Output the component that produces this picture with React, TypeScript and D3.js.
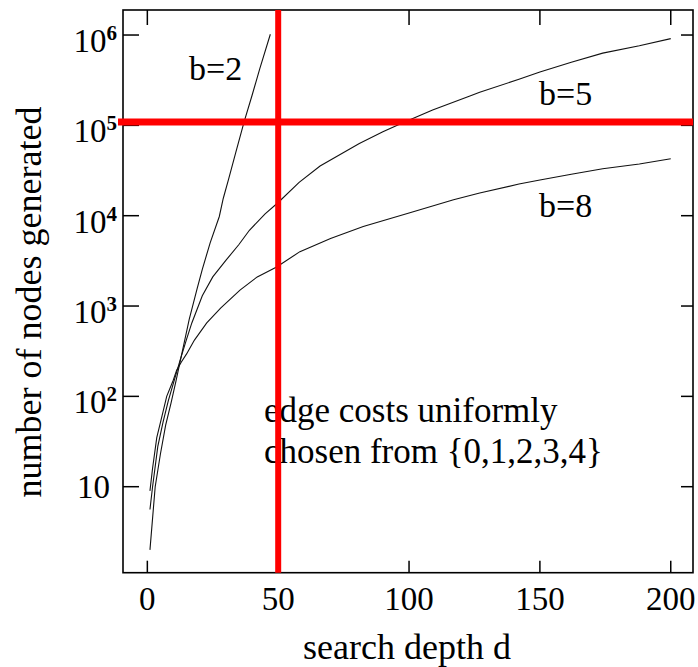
import React from "react";
import * as d3 from "d3";

// Search depth d and number of nodes generated for each branching factor
const depthB2 = [1, 3, 5, 7, 9, 11, 13, 16, 19, 21, 24, 27.5, 29, 31, 33.8, 37, 40, 43, 47];
const nodesB2 = [2, 10, 23, 48, 83, 150, 280, 710, 1550, 2550, 5000, 9800, 15500, 25100, 50100, 110000, 214000, 427000, 1020000];

const depthB5 = [1, 2, 4, 6, 8, 10, 12.5, 15, 17, 21, 25, 30, 35, 39, 45, 50, 58, 66, 75, 81, 90, 97, 109, 123, 127, 142, 150, 162, 174, 188, 200];
const nodesB5 = [5.6, 10, 28, 52, 89, 141, 250, 430, 650, 1300, 2100, 3200, 4800, 6900, 10500, 14000, 23400, 35500, 50000, 63000, 85000, 105000, 148000, 210000, 232000, 324000, 389000, 500000, 630000, 760000, 912000];

const depthB8 = [1, 2, 3.6, 5.5, 7.4, 9.9, 11.2, 13, 15, 18, 22.7, 28, 35.4, 42, 49.4, 58.3, 70, 82.5, 100, 117, 127, 142, 150, 162, 174, 188, 200];
const nodesB8 = [9, 16, 35, 59, 100, 151, 195, 240, 295, 420, 650, 950, 1500, 2100, 2700, 4000, 5600, 7600, 10700, 15000, 17800, 22400, 24800, 28800, 33100, 37300, 42700];

const xTicks = [0, 50, 100, 150, 200];
const yTickExponents = [1, 2, 3, 4, 5, 6];

// Reference lines
const markDepth = 50;
const markNodes = 109000;

const seriesLabels = ["b=2", "b=5", "b=8"];
const noteLines = ["edge costs uniformly", "chosen from {0,1,2,3,4}"];

const W = 698;
const H = 667;
const left = 123;
const right = 693;
const top = 10;
const bottom = 572.7;

const FONT = "'Liberation Serif', 'Times New Roman', serif";

export default function App() {
  const x = d3.scaleLinear().domain([-9.3, 208.5]).range([left, right]);
  const y = d3
    .scaleLog()
    .domain([Math.pow(10, 0.048), Math.pow(10, 6.277)])
    .range([bottom, top]);

  const line = d3
    .line<[number, number]>()
    .x((p) => x(p[0]))
    .y((p) => y(p[1]));

  const series = [
    { d: depthB2, n: nodesB2 },
    { d: depthB5, n: nodesB5 },
    { d: depthB8, n: nodesB8 },
  ].map((s) => s.d.map((dv, i) => [dv, s.n[i]] as [number, number]));

  return (
    <svg
      width={W}
      height={H}
      style={{ position: "absolute", left: 0, top: 0, background: "#fff" }}
      fontFamily={FONT}
    >
      <rect x={0} y={0} width={W} height={H} fill="#fff" />

      {/* curves */}
      {series.map((pts, i) => (
        <path key={i} d={line(pts) || ""} fill="none" stroke="#111" strokeWidth={1.1} />
      ))}

      {/* frame */}
      <rect x={left} y={top} width={right - left} height={bottom - top} fill="none" stroke="#000" strokeWidth={1.6} />

      {/* y ticks */}
      {yTickExponents.map((e) => {
        const yy = y(Math.pow(10, e));
        return (
          <g key={e}>
            <line x1={left} x2={left + 16} y1={yy} y2={yy} stroke="#000" strokeWidth={1.5} />
            <line x1={right - 12} x2={right} y1={yy} y2={yy} stroke="#000" strokeWidth={1.5} />
            {e === 1 ? (
              <text x={110} y={yy + 11.5} textAnchor="end" fontSize={33} fill="#000">
                10
              </text>
            ) : (
              <text x={117} y={yy + 17} textAnchor="end" fontSize={33} fill="#000">
                10
                <tspan fontSize={21} fontWeight="bold" dy={-12}>
                  {e}
                </tspan>
              </text>
            )}
          </g>
        );
      })}

      {/* x ticks */}
      {xTicks.map((t) => {
        const xx = x(t);
        return (
          <g key={t}>
            <line x1={xx} x2={xx} y1={bottom} y2={bottom - 12} stroke="#000" strokeWidth={1.5} />
            <line x1={xx} x2={xx} y1={top} y2={top + 15} stroke="#000" strokeWidth={1.5} />
            <text x={xx} y={610} textAnchor="middle" fontSize={33} fill="#000">
              {t}
            </text>
          </g>
        );
      })}

      {/* axis titles */}
      <text x={407} y={659} textAnchor="middle" fontSize={36} fill="#000">
        search depth d
      </text>
      <text
        transform="translate(41,302) rotate(-90)"
        textAnchor="middle"
        fontSize={36}
        fill="#000"
      >
        number of nodes generated
      </text>

      {/* series labels */}
      <text x={189} y={80} fontSize={34} fill="#000">
        {seriesLabels[0]}
      </text>
      <text x={539} y={105} fontSize={34} fill="#000">
        {seriesLabels[1]}
      </text>
      <text x={539} y={217} fontSize={34} fill="#000">
        {seriesLabels[2]}
      </text>

      {/* note */}
      {noteLines.map((t, i) => (
        <text key={i} x={264} y={422 + i * 41} fontSize={35} fill="#000">
          {t}
        </text>
      ))}

      {/* red reference lines */}
      <line x1={x(markDepth)} x2={x(markDepth)} y1={top} y2={bottom} stroke="#ff0000" strokeWidth={6} />
      <line x1={118} x2={right} y1={y(markNodes)} y2={y(markNodes)} stroke="#ff0000" strokeWidth={7} />
    </svg>
  );
}
